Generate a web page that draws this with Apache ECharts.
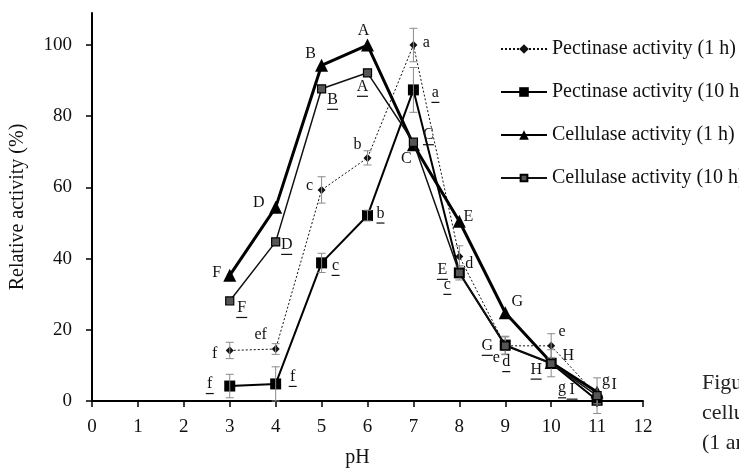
<!DOCTYPE html>
<html>
<head>
<meta charset="utf-8">
<script src="https://cdn.jsdelivr.net/npm/echarts@6/dist/echarts.min.js"></script>
<style>
html,body{margin:0;padding:0;background:#fff;}
#chart{width:739px;height:468px;}
</style>
</head>
<body>
<div id="chart"></div>
<script>
// ---- data ----
var pH = [3, 4, 5, 6, 7, 8, 9, 10, 11];
var pect1h = [14.2, 14.6, 59.3, 68.3, 100, 40.6, 15.5, 15.5, 1.5];
var pect1hErr = [2.3, 1.5, 3.7, 2.0, 4.7, 3.0, 2.5, 3.4, 5.0];
var pect10h = [4.2, 4.8, 38.8, 52.1, 87.4, 36.0, 15.7, 10.6, 0.2];
var pect10hErr = [3.3, 4.8, 2.7, 1.5, 6.3, 2.0, 2.5, 3.8, 1.0];
var cel1h = [35.3, 54.4, 94.3, 100, 72.0, 50.5, 24.8, 10.8, 2.5];
var cel10h = [28.1, 44.7, 87.7, 92.2, 72.7, 36.0, 15.5, 10.5, 1.5];

var pect1hLetters = ['f', 'ef', 'c', 'b', 'a', 'd', 'e', 'e', 'g'];
var pect10hLetters = ['f', 'f', 'c', 'b', 'a', 'c', 'd', '', 'g'];
var cel1hLetters = ['F', 'D', 'B', 'A', 'C', 'E', 'G', 'H', 'I'];
var cel10hLetters = ['F', 'D', 'B', 'A', 'C', 'E', 'G', 'H', 'I'];

var xTicks = [0, 1, 2, 3, 4, 5, 6, 7, 8, 9, 10, 11, 12];
var yTicks = [0, 20, 40, 60, 80, 100];

var seriesNames = ['Pectinase activity (1 h)', 'Pectinase activity (10 h)', 'Cellulase activity (1 h)', 'Cellulase activity (10 h)'];

// ---- label placement (pixel offsets from the point) ----
var pect1hOff = [[-15,3],[-15,-14],[-12,-4],[-10,-13],[13,-2],[10,7],[-9,12],[11,-14],[9,-15]];
var pect10hOff = [[-20,-2],[17,-7],[14,3],[13,-2],[22,3],[-12,12],[1,17],[0,0],[-35,-12]];
var cel1hOff = [[-13,-3],[-17,-5],[-11,-12],[-4,-14],[-7,14],[9,-4],[12,-11],[17,-7],[17,-7]];
var cel10hOff = [[12,7],[11,3],[11,11],[-5,14],[15,-7],[-17,-3],[-18,0],[-15,6],[-25,-6]];

var FONT = '"Liberation Serif", "Times New Roman", serif';
// small square symbol with transparent margin (so the legend icon stays small)
var SMALL_SQUARE = 'path://M0,0 M20,20 M3,3 L17,3 L17,17 L3,17 Z';

function pairs(ys) { return pH.map(function (x, i) { return [x, ys[i]]; }); }

function errSeries(ys, errs) {
  return {
    type: 'custom',
    silent: true,
    z: 5,
    data: pH.map(function (x, i) { return [x, ys[i], errs[i]]; }),
    renderItem: function (params, api) {
      var x = api.value(0), y = api.value(1), e = api.value(2);
      var top = api.coord([x, y + e]);
      var bot = api.coord([x, y - e]);
      var hw = 4;
      var st = { stroke: '#8a8a8a', lineWidth: 1 };
      return {
        type: 'group',
        children: [
          { type: 'line', shape: { x1: top[0], y1: top[1], x2: bot[0], y2: bot[1] }, style: st },
          { type: 'line', shape: { x1: top[0] - hw, y1: top[1], x2: top[0] + hw, y2: top[1] }, style: st },
          { type: 'line', shape: { x1: bot[0] - hw, y1: bot[1], x2: bot[0] + hw, y2: bot[1] }, style: st }
        ]
      };
    }
  };
}

function labelSeries(ys, letters, offs, underline) {
  return {
    type: 'custom',
    silent: true,
    z: 10,
    data: pH.map(function (x, i) { return [x, ys[i], i]; }),
    renderItem: function (params, api) {
      var i = api.value(2);
      var t = letters[i];
      if (!t) return null;
      var p = api.coord([api.value(0), api.value(1)]);
      var cx = p[0] + offs[i][0], cy = p[1] + offs[i][1];
      var children = [{
        type: 'text',
        style: { text: t, x: cx, y: cy, align: 'center', verticalAlign: 'middle', font: '16px ' + FONT, fill: '#111' }
      }];
      if (underline) {
        var w = 0;
        for (var k = 0; k < t.length; k++) w += (t[k] === t[k].toUpperCase() ? 11 : 8);
        children.push({ type: 'line', shape: { x1: cx - w / 2, y1: cy + 9.5, x2: cx + w / 2, y2: cy + 9.5 }, style: { stroke: '#111', lineWidth: 1.2 } });
      }
      return { type: 'group', children: children };
    }
  };
}

var chart = echarts.init(document.getElementById('chart'), null, { renderer: 'canvas' });
var option = {
  backgroundColor: '#fff',
  animation: false,
  textStyle: { fontFamily: FONT, color: '#111' },
  grid: { left: 92, right: 96, top: 13, bottom: 67, containLabel: false, outerBoundsMode: 'none' },
  legend: {
    orient: 'vertical',
    left: 495,
    top: 33,
    itemWidth: 46,
    itemHeight: 12,
    itemGap: 21,
    data: seriesNames,
    textStyle: { fontFamily: FONT, fontSize: 20, color: '#111', lineHeight: 22 }
  },
  xAxis: {
    type: 'value',
    min: 0, max: 12, interval: 1,
    name: 'pH',
    nameLocation: 'middle',
    nameGap: 47,
    nameTextStyle: { fontFamily: FONT, fontSize: 20, color: '#111', padding: [0, 20, 0, 0] },
    axisLine: { onZero: false, lineStyle: { color: '#000', width: 2 } },
    axisTick: { show: true, length: 6, lineStyle: { color: '#000', width: 1.5 } },
    axisLabel: { fontFamily: FONT, fontSize: 19, color: '#111', margin: 17, customValues: xTicks },
    splitLine: { show: false }
  },
  yAxis: {
    type: 'value',
    min: 0, max: 109,
    name: 'Relative activity (%)',
    nameLocation: 'middle',
    nameRotate: 90,
    nameGap: 64,
    nameTextStyle: { fontFamily: FONT, fontSize: 20, color: '#111' },
    axisLine: { show: true, lineStyle: { color: '#000', width: 2 } },
    axisTick: { show: true, length: 6, lineStyle: { color: '#000', width: 1.5 }, customValues: yTicks },
    axisLabel: { fontFamily: FONT, fontSize: 19, color: '#111', margin: 20, customValues: yTicks },
    splitLine: { show: false }
  },
  series: [
    {
      name: seriesNames[0], type: 'line', data: pairs(pect1h), z: 3,
      symbol: 'diamond', symbolSize: 8,
      lineStyle: { color: '#111', width: 1, type: [2, 2] },
      itemStyle: { color: '#111' }
    },
    {
      name: seriesNames[1], type: 'line', data: pairs(pect10h), z: 4,
      symbol: 'rect', symbolSize: 11,
      lineStyle: { color: '#000', width: 2 },
      itemStyle: { color: '#000' }
    },
    {
      name: seriesNames[2], type: 'line', data: pairs(cel1h), z: 4,
      symbol: 'triangle', symbolSize: 13,
      lineStyle: { color: '#000', width: 3 },
      itemStyle: { color: '#000' }
    },
    {
      name: seriesNames[3], type: 'line', data: pairs(cel10h), z: 6,
      symbol: SMALL_SQUARE, symbolSize: 11.5,
      lineStyle: { color: '#111', width: 1.5 },
      itemStyle: { color: '#555', borderColor: '#000', borderWidth: 1.2 }
    },
    errSeries(pect1h, pect1hErr),
    errSeries(pect10h, pect10hErr),
    labelSeries(pect1h, pect1hLetters, pect1hOff, false),
    labelSeries(pect10h, pect10hLetters, pect10hOff, true),
    labelSeries(cel1h, cel1hLetters, cel1hOff, false),
    labelSeries(cel10h, cel10hLetters, cel10hOff, true)
  ],
  graphic: [
    { type: 'text', left: 702, top: 372, style: { text: 'Figure', font: '22px ' + FONT, fill: '#222' } },
    { type: 'text', left: 702, top: 402, style: { text: 'cellulase', font: '22px ' + FONT, fill: '#222' } },
    { type: 'text', left: 702, top: 432, style: { text: '(1 and 10 h)', font: '22px ' + FONT, fill: '#222' } }
  ]
};
chart.setOption(option);
</script>
</body>
</html>
